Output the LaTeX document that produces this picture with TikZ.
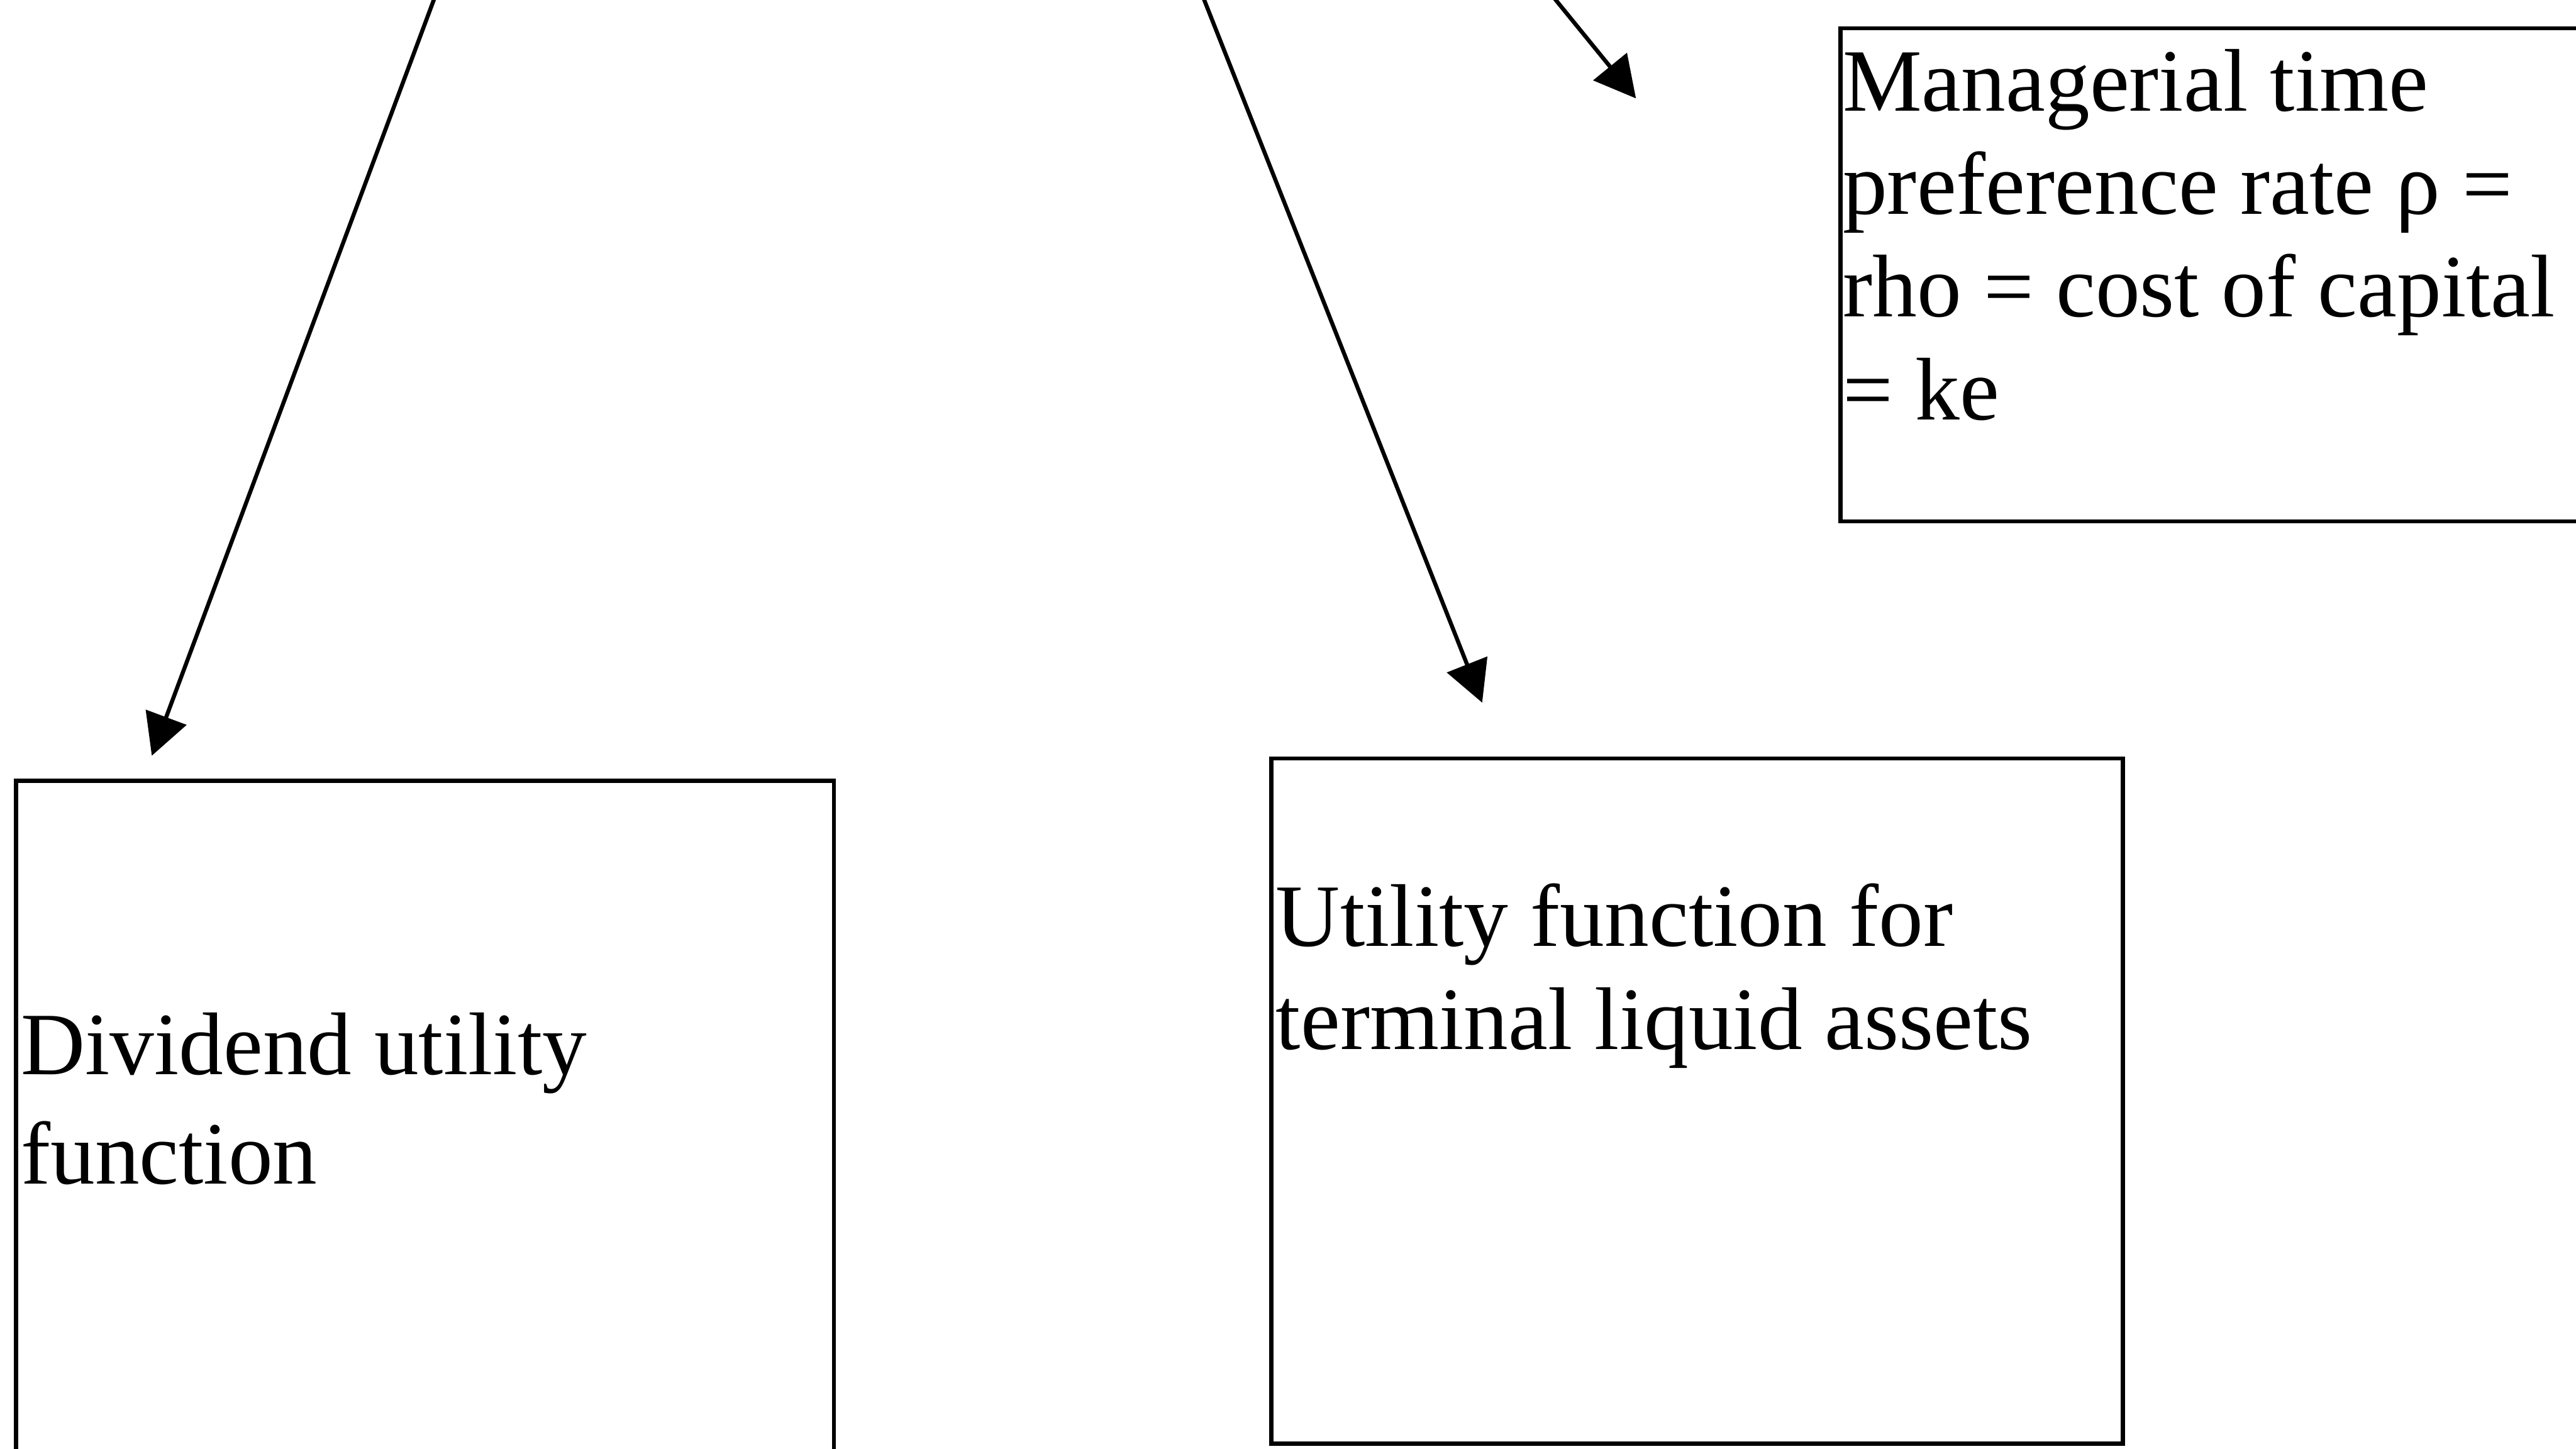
\documentclass[tikz,border=0pt]{standalone}
\usepackage{fontspec}
\setmainfont{Liberation Serif}
\usetikzlibrary{arrows.meta}
\begin{document}
\begin{tikzpicture}[x=0.01cm,y=-0.01cm,
  box/.style={draw, line width=0.7pt, inner sep=0pt, anchor=north west},
  % multi-line texts are placed by the baseline of their last line
  boxtext/.style={anchor=base west, inner sep=0pt, align=left,
    font=\fontsize{15.4}{17.8}\selectfont},
  link/.style={line width=0.7pt, -{Triangle[length=0.25cm,width=0.26cm]}}]
\clip (0,0) rectangle (1568,882);

% boxes
\node[box, minimum width=4.81cm, minimum height=3.00cm] (mgr) at (1119,16) {};
\node[box, minimum width=4.975cm, minimum height=4.6cm] (div) at (8.5,474) {};
\node[box, minimum width=5.18cm, minimum height=4.168cm] (term) at (772.6,460.5) {};

% box texts
\node[boxtext] (mgrtext) at (1121,255.5)
  {Managerial time\\preference rate ρ =\\rho = cost of capital\\= ke};
\node[boxtext, font=\fontsize{15.4}{18.9}\selectfont] (divtext) at (12,720.5)
  {Dividend utility\\function};
\node[boxtext] (termtext) at (776,638.6)
  {Utility function for\\terminal liquid assets};

% arrows entering from above
\coordinate (s1) at (271.5,-20);
\coordinate (t1) at (92.4,460);
\coordinate (s2) at (725.1,-20);
\coordinate (t2) at (902.2,427.7);
\coordinate (s3) at (930.7,-20);
\coordinate (t3) at (995.8,59.9);
\draw[link] (s1) -- (t1);
\draw[link] (s2) -- (t2);
\draw[link] (s3) -- (t3);
\end{tikzpicture}
\end{document}
